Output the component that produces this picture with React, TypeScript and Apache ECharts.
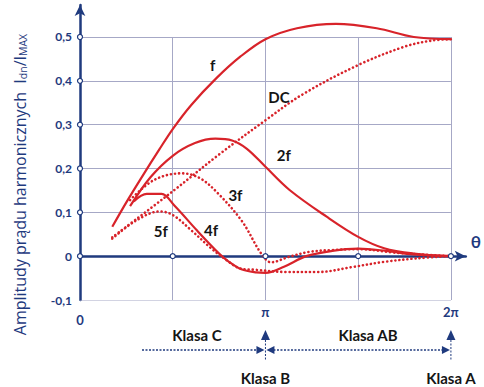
import React, { useEffect, useRef } from 'react';
import * as echarts from 'echarts';

const FONT = 'Lato, "Open Sans", sans-serif';
const NAME_FONT = '"Open Sans", Lato, sans-serif';
const NAVY = '#1f3a7e';
const RED = '#d8232a';
const GRIDC = '#a6a8c6';

// x in units of pi
const xTickLabels: Record<string, string> = { '0': '{z|0}', '1': 'π', '2': '2π' };
const yGridValues = [-0.1, 0.1, 0.2, 0.3, 0.4, 0.5];
const xGridValues = [0.5, 1, 1.5, 2];
const xTickMarks = [0.5, 1, 1.5, 2];
const yTickMarks = [0, 0.1, 0.2, 0.3, 0.4, 0.5];

const fX = [0.174, 0.253, 0.34, 0.427, 0.5, 0.6, 0.733, 0.864, 1.0, 1.17, 1.38, 1.6, 1.8, 2.0];
const fY = [0.067, 0.125, 0.185, 0.243, 0.29, 0.345, 0.405, 0.455, 0.495, 0.52, 0.53, 0.52, 0.5, 0.495];

const dcX = [0.174, 0.5, 0.75, 1.0, 1.2, 1.5, 1.75, 1.9, 2.0];
const dcY = [0.043, 0.148, 0.232, 0.31, 0.369, 0.436, 0.478, 0.492, 0.495];

const h2X = [0.27, 0.38, 0.5, 0.62, 0.73, 0.82, 0.9, 1.0, 1.13, 1.33, 1.5, 1.64, 1.8, 2.0];
const h2Y = [0.114, 0.18, 0.229, 0.258, 0.268, 0.264, 0.245, 0.204, 0.151, 0.09, 0.044, 0.018, 0.006, 0];

const h3X = [0.27, 0.4, 0.55, 0.646, 0.74, 0.873, 0.977, 1.03, 1.13, 1.24, 1.36, 1.5, 1.7, 2.0];
const h3Y = [0.128, 0.174, 0.189, 0.178, 0.145, 0.08, 0.006, -0.014, -0.001, 0.01, 0.014, 0.016, 0.008, 0];

const h4X = [0.29, 0.36, 0.44, 0.51, 0.63, 0.75, 0.8, 0.87, 0.95, 1.0, 1.1, 1.22, 1.36, 1.5, 1.65, 1.8, 2.0];
const h4Y = [0.125, 0.142, 0.142, 0.115, 0.059, 0.006, -0.012, -0.03, -0.037, -0.038, -0.024, 0, 0.012, 0.017, 0.012, 0.004, 0];

const h5X = [0.174, 0.305, 0.43, 0.5, 0.6, 0.707, 0.777, 0.864, 0.942, 1.117, 1.29, 1.466, 1.64, 1.815, 2.0];
const h5Y = [0.04, 0.082, 0.102, 0.094, 0.059, 0.018, -0.005, -0.028, -0.031, -0.036, -0.036, -0.025, -0.013, -0.005, 0];

const curveLabels = ['f', 'DC', '2f', '3f', '4f', '5f'];
const curveLabelAt: number[][] = [[0.716, 0.436], [1.073, 0.364], [1.099, 0.231], [0.838, 0.139], [0.707, 0.059], [0.436, 0.057]];

const zip = (xs: number[], ys: number[]) => xs.map((x, i) => [x, ys[i]]);

const solid = { color: RED, width: 2.2, type: 'solid' as const };
const dotted = { color: RED, width: 2.6, type: [0.1, 4] as any, cap: 'round' as const };

function curve(name: string, xs: number[], ys: number[], isDotted: boolean) {
  return {
    name,
    type: 'line',
    data: zip(xs, ys),
    showSymbol: false,
    smooth: 0.35,
    silent: true,
    z: 5,
    lineStyle: isDotted ? dotted : solid,
  };
}

export default function App() {
  const ref = useRef<HTMLDivElement>(null);
  useEffect(() => {
    document.body.style.margin = '0';
    const chart = echarts.init(ref.current!, undefined, { renderer: 'svg' });
    const gridLines = [
      ...yGridValues.map((v) => ({ coords: [[0, v], [2, v]] })),
      ...xGridValues.map((v) => ({ coords: [[v, -0.1], [v, 0.5]] })),
    ];
    const tickPts = [...xTickMarks.map((x) => [x, 0]), ...yTickMarks.map((y) => [0, y])];
    chart.setOption({
      animation: false,
      textStyle: { fontFamily: FONT },
      grid: { left: 80, right: 6, top: 5, bottom: 87, containLabel: false },
      xAxis: [
        {
          type: 'value',
          min: 0,
          max: 2.08,
          interval: 0.5,
          position: 'bottom',
          axisLine: { show: false, onZero: false },
          axisTick: { show: false },
          splitLine: { show: false },
          axisLabel: {
            margin: 5,
            color: NAVY,
            fontWeight: 'bold',
            fontSize: 13,
            fontFamily: FONT,
            formatter: (v: number) => xTickLabels[String(Math.round(v * 100) / 100)] ?? '',
            rich: { z: { padding: [8, 0, 0, 0], color: NAVY, fontWeight: 'bold', fontSize: 13, fontFamily: FONT } },
          },
        },
        {
          type: 'value',
          min: 0,
          max: 2.08,
          interval: 0.5,
          position: 'top',
          name: 'θ',
          nameLocation: 'end',
          nameGap: 5,
          nameTextStyle: { color: NAVY, fontSize: 17, fontWeight: 'bold', align: 'left', verticalAlign: 'bottom', padding: [0, 0, 6, 0], fontFamily: FONT },
          axisLine: { show: true, onZero: true, symbol: ['none', 'arrow'], symbolSize: [8, 11], lineStyle: { color: NAVY, width: 2.5 } },
          axisTick: { show: false },
          splitLine: { show: false },
          axisLabel: { show: false },
        },
      ],
      yAxis: {
        type: 'value',
        min: -0.1,
        max: 0.573,
        interval: 0.1,
        name: '{a|Amplitudy prądu harmonicznych  I}{s|dn}{a|/I}{s|MAX}',
        nameLocation: 'middle',
        nameGap: 52,
        nameTextStyle: {
          padding: [0, 64, 0, 0],
          rich: {
            a: { fontSize: 16, color: NAVY, fontFamily: NAME_FONT, lineHeight: 22, verticalAlign: 'bottom' },
            s: { fontSize: 10.5, color: NAVY, fontFamily: NAME_FONT, verticalAlign: 'bottom', lineHeight: 22, padding: [7, 0, 0, 0] },
          },
        },
        axisLine: { show: true, onZero: true, symbol: ['none', 'arrow'], symbolSize: [8, 11], lineStyle: { color: NAVY, width: 2.5 } },
        axisTick: { show: false },
        splitLine: { show: false },
        axisLabel: {
          color: NAVY,
          fontWeight: 'bold',
          fontSize: 12,
          fontFamily: FONT,
          margin: 8,
          formatter: (v: number) => (v > 0.55 ? '' : String(Math.round(v * 10) / 10).replace('.', ',')),
        },
      },
      series: [
        {
          type: 'lines',
          coordinateSystem: 'cartesian2d',
          silent: true,
          z: 1,
          lineStyle: { color: GRIDC, width: 1, opacity: 1 },
          data: gridLines,
        },
        curve('f', fX, fY, false),
        curve('DC', dcX, dcY, true),
        curve('2f', h2X, h2Y, false),
        curve('3f', h3X, h3Y, true),
        curve('4f', h4X, h4Y, false),
        curve('5f', h5X, h5Y, true),
        {
          type: 'scatter',
          data: tickPts,
          symbol: 'circle',
          symbolSize: 5,
          clip: false,
          silent: true,
          z: 10,
          itemStyle: { color: '#ffffff', borderColor: NAVY, borderWidth: 1.2, opacity: 1 },
        },
      ],
    });

    const px = (x: number, y: number) => chart.convertToPixel({ xAxisIndex: 0, yAxisIndex: 0 }, [x, y]) as number[];
    const xPi = px(1, 0)[0];
    const x2Pi = px(2, 0)[0];
    const lineY = 350;
    const textStyle = (t: string, size = 15) => ({ text: t, fill: '#151515', font: `bold ${size}px ${FONT}`, align: 'center', verticalAlign: 'middle' });
    const graphics: any[] = curveLabels.map((t, i) => {
      const p = px(curveLabelAt[i][0], curveLabelAt[i][1]);
      return { type: 'text', x: p[0], y: p[1], z: 20, style: textStyle(t) };
    });
    const dash = { stroke: NAVY, lineWidth: 1.5, lineDash: [2, 1.5] };
    graphics.push(
      { type: 'text', x: 197, y: 335, style: textStyle('Klasa C') },
      { type: 'text', x: 368, y: 335, style: textStyle('Klasa AB') },
      { type: 'text', x: xPi, y: 378, style: textStyle('Klasa B') },
      { type: 'text', x: x2Pi, y: 378, style: textStyle('Klasa A') },
      { type: 'line', shape: { x1: 142, y1: lineY, x2: xPi - 8, y2: lineY }, style: dash },
      { type: 'line', shape: { x1: xPi + 8, y1: lineY, x2: x2Pi - 8, y2: lineY }, style: dash },
      { type: 'polygon', shape: { points: [[xPi - 1, lineY], [xPi - 9, lineY - 4], [xPi - 9, lineY + 4]] }, style: { fill: NAVY } },
      { type: 'polygon', shape: { points: [[xPi + 1, lineY], [xPi + 9, lineY - 4], [xPi + 9, lineY + 4]] }, style: { fill: NAVY } },
      { type: 'polygon', shape: { points: [[x2Pi - 1, lineY], [x2Pi - 9, lineY - 4], [x2Pi - 9, lineY + 4]] }, style: { fill: NAVY } },
      { type: 'polygon', shape: { points: [[xPi, 330], [xPi - 4.5, 340], [xPi + 4.5, 340]] }, style: { fill: NAVY } },
      { type: 'polygon', shape: { points: [[x2Pi, 330], [x2Pi - 4.5, 340], [x2Pi + 4.5, 340]] }, style: { fill: NAVY } },
      { type: 'line', shape: { x1: xPi, y1: 340, x2: xPi, y2: 360 }, style: { stroke: NAVY, lineWidth: 1, lineDash: [2, 1.5] } },
      { type: 'line', shape: { x1: x2Pi, y1: 340, x2: x2Pi, y2: 360 }, style: { stroke: NAVY, lineWidth: 1, lineDash: [2, 1.5] } },
    );
    chart.setOption({ graphic: graphics });
    return () => chart.dispose();
  }, []);
  return <div ref={ref} style={{ width: 484, height: 387 }} />;
}
